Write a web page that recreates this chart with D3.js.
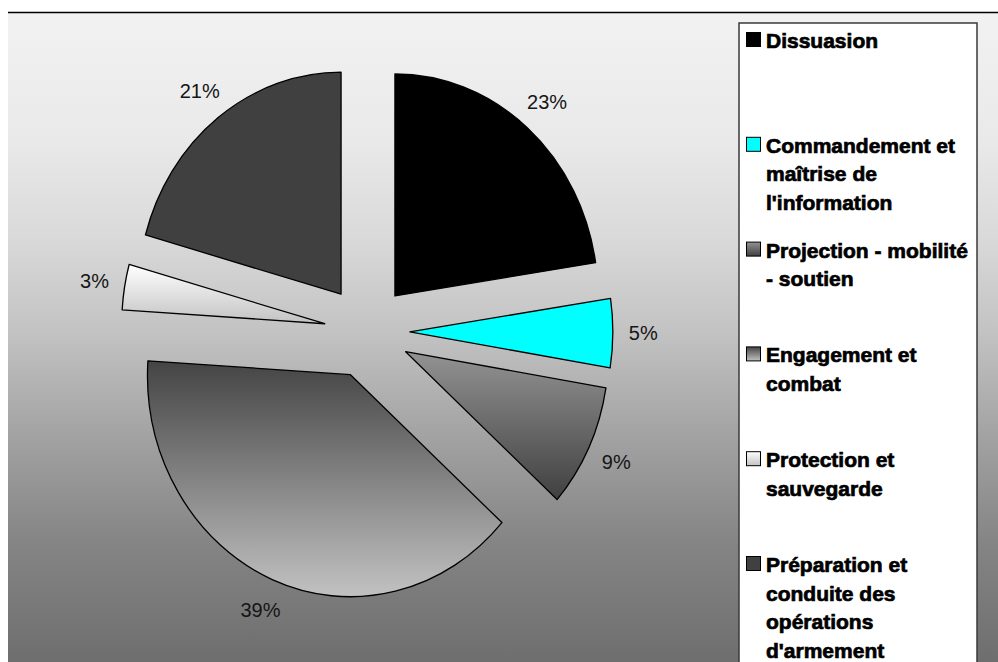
<!DOCTYPE html>
<html>
<head>
<meta charset="utf-8">
<script src="https://cdn.jsdelivr.net/npm/d3@7"></script>
<style>
  body { margin: 0; background: #fff; }
  svg { display: block; }
</style>
</head>
<body>
<svg id="chart" width="998" height="662"></svg>
<script>
// categories, values (share of budget) and fills
const categories = [
  "Dissuasion",
  "Commandement et maîtrise de l'information",
  "Projection - mobilité - soutien",
  "Engagement et combat",
  "Protection et sauvegarde",
  "Préparation et conduite des opérations d'armement"
];
const shares = [22.6, 5.0, 9.0, 39.4, 3.3, 20.7];
// vertical gradient of each slice, top colour then bottom colour
const fillTop = ["#000000", "#00ffff", "#939393", "#444444", "#ffffff", "#404040"];
const fillBottom = ["#000000", "#00ffff", "#404040", "#c2c2c2", "#c2c2c2", "#404040"];

const svg = d3.select("#chart");
const width = 998, height = 662;

// pie geometry (the original is a slightly stretched ellipse)
const cx = 367, cy = 331.5;
const rx = 203, ry = 222;
const explode = 0.211;   // fraction of radius
const labelK = 1.15;      // label distance, fraction of radius

const defs = svg.append("defs");

// chart area background
let bg = defs.append("linearGradient")
    .attr("id", "bg")
    .attr("x1", 0).attr("y1", 0).attr("x2", 0).attr("y2", 1);
[[0, "#f2f2f2"], [0.2, "#e9e9e9"], [0.35, "#d9d9d9"], [0.49, "#c3c3c3"],
 [0.66, "#a1a1a1"], [0.82, "#848484"], [1, "#6e6e6e"]].forEach(s => {
  bg.append("stop").attr("offset", s[0]).attr("stop-color", s[1]);
});

categories.forEach((c, i) => {
  let g = defs.append("linearGradient")
      .attr("id", "slice" + i)
      .attr("x1", 0).attr("y1", 0).attr("x2", 0).attr("y2", 1);
  g.append("stop").attr("offset", 0).attr("stop-color", fillTop[i]);
  g.append("stop").attr("offset", 1).attr("stop-color", fillBottom[i]);
});

svg.append("rect")
    .attr("x", 8).attr("y", 12)
    .attr("width", width - 8).attr("height", height - 12)
    .attr("fill", "url(#bg)");
svg.append("line")
    .attr("x1", 8).attr("x2", width)
    .attr("y1", 12.5).attr("y2", 12.5)
    .attr("stroke", "#000").attr("stroke-width", 1.6);

// normalised (-1..1) -> pixel scales
const xS = d3.scaleLinear().domain([-1, 1]).range([cx - rx, cx + rx]);
const yS = d3.scaleLinear().domain([-1, 1]).range([cy - ry, cy + ry]);

const pie = d3.pie().sort(null).value(d => d);
const arcs = pie(shares);
const arc = d3.arc().innerRadius(0).outerRadius(rx);
const mid = d => (d.startAngle + d.endAngle) / 2;

let pieG = svg.append("g")
    .attr("transform", `translate(${cx},${cy}) scale(1,${ry / rx})`);

pieG.selectAll("path")
    .data(arcs)
    .enter()
    .append("path")
    .attr("d", arc)
    .attr("transform", d => `translate(${Math.sin(mid(d)) * explode * rx},${-Math.cos(mid(d)) * explode * rx})`)
    .attr("fill", (d, i) => `url(#slice${i})`)
    .attr("stroke", "#000")
    .attr("stroke-width", 1.3)
    .attr("stroke-linejoin", "round")
    .attr("vector-effect", "non-scaling-stroke");

const total = d3.sum(shares);
const pct = d3.format(".0%");

svg.selectAll("text.pct")
    .data(arcs)
    .enter()
    .append("text")
    .attr("class", "pct")
    .attr("x", d => xS(Math.sin(mid(d)) * (explode + labelK)))
    .attr("y", d => yS(-Math.cos(mid(d)) * (explode + labelK)))
    .attr("dy", "0.35em")
    .attr("text-anchor", "middle")
    .attr("font-family", "'Liberation Sans', Arial, sans-serif")
    .attr("font-size", 20)
    .attr("fill", "#151515")
    .text(d => pct(d.value / total));

// legend
const legX = 739, legY = 23, legW = 238;
svg.append("rect")
    .attr("x", legX).attr("y", legY)
    .attr("width", legW).attr("height", height - legY + 20)
    .attr("fill", "#fff")
    .attr("stroke", "#3a3a3a")
    .attr("stroke-width", 1.5);

const legendY = d3.scalePoint()
    .domain(categories)
    .range([48, 48 + 5 * 104.8]);
const lineH = 28.7;
const maxW = 208;

let items = svg.selectAll("g.leg")
    .data(categories)
    .enter()
    .append("g")
    .attr("class", "leg")
    .attr("transform", d => `translate(0,${legendY(d)})`);

items.append("rect")
    .attr("x", 746.5).attr("y", -15.5)
    .attr("width", 14).attr("height", 14)
    .attr("fill", (d, i) => `url(#slice${i})`)
    .attr("stroke", "#000")
    .attr("stroke-width", 1);

items.each(function(d) {
  let t = d3.select(this).append("text")
      .attr("x", 766)
      .attr("font-family", "'Liberation Sans', Arial, sans-serif")
      .attr("font-weight", "bold")
      .attr("font-size", 21)
      .attr("fill", "#000")
      .attr("stroke", "#000")
      .attr("stroke-width", 0.7);
  // simple word wrap
  let words = d.split(" ");
  let line = [];
  let n = 0;
  let tspan = t.append("tspan").attr("x", 766).attr("y", 0);
  words.forEach(w => {
    line.push(w);
    tspan.text(line.join(" "));
    if (tspan.node().getComputedTextLength() > maxW && line.length > 1) {
      line.pop();
      tspan.text(line.join(" "));
      line = [w];
      n++;
      tspan = t.append("tspan").attr("x", 766).attr("y", n * lineH).text(w);
    }
  });
});
</script>
</body>
</html>
